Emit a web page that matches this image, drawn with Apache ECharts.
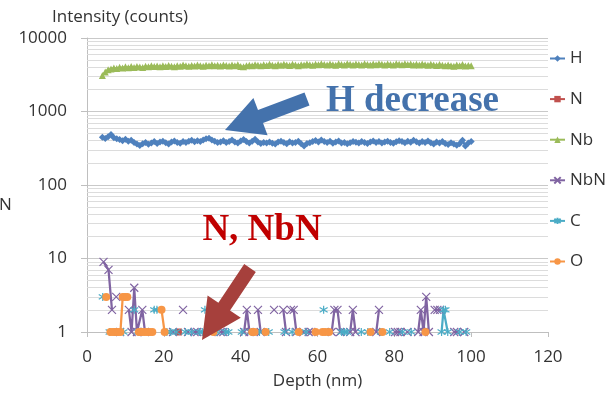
<!DOCTYPE html>
<html><head><meta charset="utf-8">
<script src="https://cdn.jsdelivr.net/npm/echarts@6/dist/echarts.min.js"></script>
<style>html,body{margin:0;padding:0;background:#fff}#c{width:609px;height:395px}</style>
</head><body><div id="c"></div>
<script>
// ---- data ----
const seriesNames = ['H', 'N', 'Nb', 'NbN', 'C', 'O'];
const xTicks = [0, 20, 40, 60, 80, 100, 120];
const yTicks = [1, 10, 100, 1000, 10000];

const depth = [
4,4.75,5.5,6.25,7,7.75,8.5,9.25,10,10.75,
11.5,12.25,13,13.75,14.5,15.25,16,16.75,17.5,18.25,
19,19.75,20.5,21.25,22,22.75,23.5,24.25,25,25.75,
26.5,27.25,28,28.75,29.5,30.25,31,31.75,32.5,33.25,
34,34.75,35.5,36.25,37,37.75,38.5,39.25,40,40.75,
41.5,42.25,43,43.75,44.5,45.25,46,46.75,47.5,48.25,
49,49.75,50.5,51.25,52,52.75,53.5,54.25,55,55.75,
56.5,57.25,58,58.75,59.5,60.25,61,61.75,62.5,63.25,
64,64.75,65.5,66.25,67,67.75,68.5,69.25,70,70.75,
71.5,72.25,73,73.75,74.5,75.25,76,76.75,77.5,78.25,
79,79.75,80.5,81.25,82,82.75,83.5,84.25,85,85.75,
86.5,87.25,88,88.75,89.5,90.25,91,91.75,92.5,93.25,
94,94.75,95.5,96.25,97,97.75,98.5,99.25,100];

const hCounts = [
445,430,452,485,440,425,415,400,418,395,
405,380,360,345,365,380,358,372,390,368,
384,395,375,362,385,398,380,370,392,378,
395,405,388,400,392,410,425,432,410,395,
378,385,400,378,392,410,385,372,398,415,
390,372,395,420,385,368,380,372,386,370,
362,385,395,378,365,388,372,380,395,365,
340,368,375,390,402,385,410,392,380,395,
370,385,398,372,380,365,375,390,382,372,
390,378,368,385,398,380,392,372,385,395,
378,370,388,400,392,375,395,382,405,388,
372,392,380,398,376,362,385,372,390,368,
355,375,360,348,365,405,340,372,390];

const nbCounts = [
3100,3450,3700,3800,3900,3850,4000,3920,4050,3950,
4080,3980,4100,4020,3960,4120,4050,4180,4080,4150,
4050,4200,4100,4220,4130,4060,4180,4120,4300,4180,
4120,4240,4150,4280,4200,4120,4250,4180,4320,4200,
4260,4150,4300,4220,4160,4280,4200,4330,4100,4050,
4180,4260,4200,4340,4250,4180,4320,4240,4380,4270,
4200,4350,4260,4400,4300,4230,4380,4290,4200,4340,
4280,4420,4310,4250,4400,4320,4460,4350,4280,4420,
4330,4270,4450,4360,4300,4480,4380,4300,4430,4350,
4280,4460,4370,4300,4420,4340,4480,4380,4300,4440,
4360,4290,4470,4380,4310,4450,4360,4420,4300,4390,
4280,4420,4330,4250,4380,4300,4220,4360,4260,4180,
4300,4200,4130,4280,4180,4350,4150,4220,4180];

// sparse series: [depth, counts]; null = gap (zero counts)
const nPoints = [[23.8,1]];
const nbnPoints = [[4.3,9],[5.6,7],[6.5,2],null,[7.6,3],null,[8.6,1],null,[10.9,2],[11.6,1],[12.3,4],[13.0,1],[14.4,2],[15.1,1],null,[22.4,1],null,[25.0,2],null,[26.3,1],null,[28.0,1],[28.7,1],null,[32.4,1],null,[34.8,1],[35.5,1],null,[40.9,1],[41.6,2],[42.3,1],null,[44.5,2],[45.2,1],null,[48.7,2],null,[51.1,2],[51.8,1],null,[53.1,2],[53.8,2],[54.5,1],null,[56.3,1],null,[57.7,1],[58.4,1],null,[63.7,1],[64.4,2],[65.2,2],[65.9,1],null,[68.5,1],[69.2,2],[69.9,1],null,[75.3,1],[76.0,2],null,[80.2,1],[80.9,1],[81.6,1],null,[83.4,1],null,[86.2,1],[86.9,2],[87.6,1],[88.3,3],[89.0,1],null,[90.5,2],[91.2,2],[91.9,2],null,[95.6,1],[96.3,1],null,[98.2,1]];
const cPoints = [[4.1,3],null,[5.9,1],null,[7.2,1],null,[9.5,1],null,[12.3,2],null,[13.3,1],null,[17.5,2],[18.2,2],null,[20.8,1],null,[21.8,1],null,[23.2,1],null,[25.6,1],null,[27.2,1],null,[29.3,1],[30.0,1],null,[30.7,2],null,[31.5,1],null,[33.8,1],null,[36.1,1],[36.8,1],null,[40.3,1],null,[42.8,1],null,[44.9,1],null,[47.3,1],null,[51.4,1],null,[53.4,1],null,[57.0,1],null,[61.6,2],null,[62.6,1],null,[66.3,1],[67.0,1],[67.7,1],null,[71.4,1],null,[73.1,1],null,[76.5,1],null,[78.8,1],null,[82.1,1],null,[84.4,1],null,[92.3,1],[92.8,2],[93.3,2],[93.9,1],null,[97.0,1],null,[98.7,1]];
const oPoints = [[5.0,3],null,[6.1,1],[6.8,1],[7.4,1],[8.1,1],[8.7,1],[9.3,3],[9.9,3],[10.5,3],null,[13.5,1],[14.2,1],[14.9,1],[15.6,1],[16.3,1],[17.0,1],null,[19.4,2],[20.2,1],null,[32.9,1],null,[43.0,1],[43.6,1],null,[46.5,1],null,[55.1,1],null,[59.5,1],null,[61.3,1],[62.0,1],null,[63.0,1],null,[73.8,1],null,[76.9,1],null,[88.1,1]];

// ---- build ----
const pair = (xs, ys) => xs.map((x, i) => [x, ys[i]]);
const gaps = pts => pts.map(p => p === null ? ['-', '-'] : p);

const FONT = '"Open Sans", "Liberation Sans", sans-serif';
const TXT = '#333333';
const minorVals = [];
for (let d = 1; d < 10000; d *= 10) for (let k = 2; k <= 9; k++) minorVals.push(d * k);

const xPath = 'path://M0,0 L10,10 M0,10 L10,0';
const starPath = 'path://M5,0 L5,10 M0,2 L10,8 M0,8 L10,2';

function mk(name, data, color, symbol, size, stroke) {
  return {
    name, type: 'line', data, connectNulls: false, showAllSymbol: true,
    symbol, symbolSize: size, z: 3,
    lineStyle: { color, width: 2.25 },
    itemStyle: { color, borderColor: color, borderWidth: stroke },
    emphasis: { disabled: true }, silent: true
  };
}

const chart = echarts.init(document.getElementById('c'), null, { renderer: 'canvas' });
chart.setOption({
  animation: false,
  backgroundColor: '#ffffff',
  grid: { left: 87, right: 61, top: 38, bottom: 60 },
  xAxis: {
    type: 'value', min: xTicks[0], max: xTicks[xTicks.length - 1], interval: 20,
    name: 'Depth (nm)', nameLocation: 'middle', nameGap: 41,
    nameTextStyle: { fontFamily: FONT, fontSize: 17, color: TXT },
    axisLine: { show: true, onZero: false, lineStyle: { color: '#BFBFBF', width: 1 } },
    axisTick: { show: true, length: 5, lineStyle: { color: '#BFBFBF' } },
    axisLabel: { fontFamily: FONT, fontSize: 17, color: TXT, margin: 17 },
    splitLine: { show: false }
  },
  yAxis: {
    type: 'log', logBase: 10, min: yTicks[0], max: yTicks[yTicks.length - 1],
    axisLine: { show: true, lineStyle: { color: '#BFBFBF', width: 1 } },
    axisTick: { show: true, length: 6, lineStyle: { color: '#BFBFBF' } },
    axisLabel: { fontFamily: FONT, fontSize: 17, color: TXT, margin: 20,
      formatter: v => String(Math.round(v)) },
    splitLine: { show: true, lineStyle: { color: '#C9C9C9', width: 1 } }
  },
  legend: {
    data: seriesNames, orient: 'vertical', left: 549, top: 50, padding: 0,
    itemWidth: 15, itemHeight: 8, itemGap: 23.6,
    textStyle: { fontFamily: FONT, fontSize: 17, color: TXT },
    selectedMode: false
  },
  series: [
    { name: 'grid-minor', type: 'line', data: [], z: 1, silent: true,
      markLine: { silent: true, symbol: ['none', 'none'], animation: false,
        label: { show: false }, z: 1,
        lineStyle: { color: '#DCDCDC', width: 1, type: 'solid' },
        data: minorVals.map(v => ({ yAxis: v })) } },
    mk('H', pair(depth, hCounts), '#4F81BD', 'diamond', 7, 0),
    mk('N', gaps(nPoints), '#C0504D', 'rect', 7, 0),
    mk('Nb', pair(depth, nbCounts), '#9BBB59', 'triangle', 7, 0),
    mk('NbN', gaps(nbnPoints), '#8064A2', xPath, 8, 1.2),
    mk('C', gaps(cPoints), '#4BACC6', starPath, 8, 1.2),
    mk('O', gaps(oPoints), '#F79646', 'circle', 8, 0)
  ],
  graphic: [
    { type: 'text', x: 52, y: 17, style: { text: 'Intensity (counts)', font: '17px ' + FONT, fill: TXT, verticalAlign: 'middle', align: 'left' } },
    { type: 'text', x: -1, y: 205, style: { text: 'N', font: '17px ' + FONT, fill: TXT, verticalAlign: 'middle', align: 'left' } },
    { type: 'polygon', z: 100, shape: { points: [[309.5,105.5],[263,123.1],[267.6,135.3],[225,130],[253.4,97.9],[258,110.1],[304.5,92.5]] }, style: { fill: '#4472AC' } },
    { type: 'polygon', z: 100, shape: { points: [[255.8,271.9],[230,310.6],[240.8,317.8],[202,340],[207.6,295.6],[218.4,302.8],[244.2,264.1]] }, style: { fill: '#A6403C' } },
    { type: 'text', z: 100, x: 326, y: 101.5, style: { text: 'H decrease', font: 'bold 37px "Liberation Serif", serif', fill: '#4472AC', verticalAlign: 'middle', align: 'left' } },
    { type: 'text', z: 100, x: 262, y: 230.5, style: { text: 'N, NbN', font: 'bold 37px "Liberation Serif", serif', fill: '#C00000', verticalAlign: 'middle', align: 'center' } }
  ]
});
</script></body></html>
